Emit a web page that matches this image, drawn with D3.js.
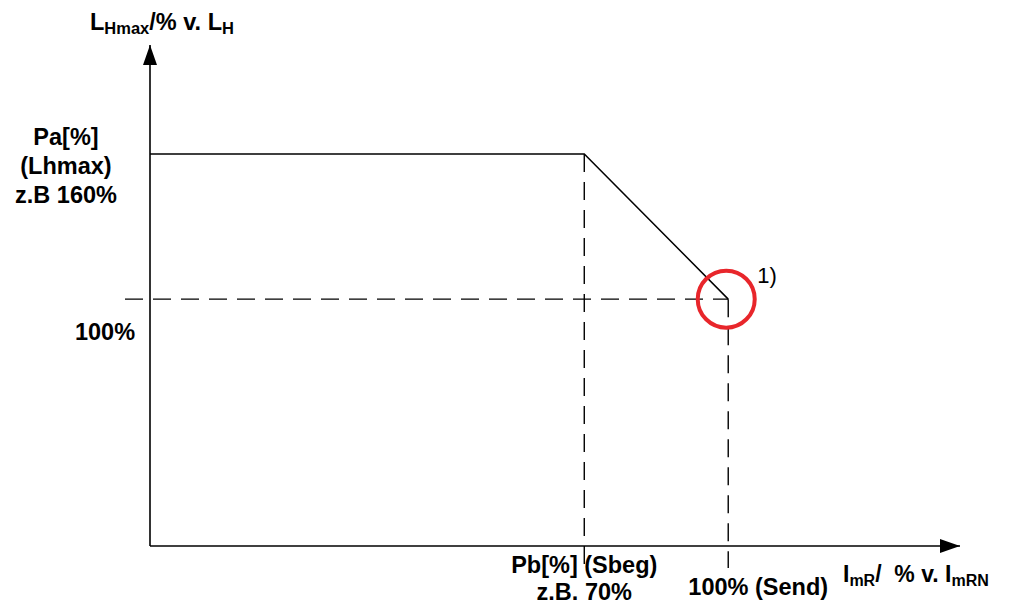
<!DOCTYPE html>
<html>
<head>
<meta charset="utf-8">
<script src="https://cdn.jsdelivr.net/npm/d3@7"></script>
<style>
    body {margin: 0; background: #fff;}
    text {font-family: "Liberation Sans", Arial, sans-serif; font-weight: bold; fill: #000;}
</style>
</head>
<body>
<svg id="chart"></svg>
<script>
// characteristic curve values (% of nominal)
const curveX = [-20.5, 70, 100];
const curveY = [160, 160, 100];
const refX = [70, 100];      // Pb (Sbeg), Send
const refY = [100];          // 100 % level
const yLabelLines = ["Pa[%]", "(Lhmax)", "z.B 160%"];
const xLabelPb = ["Pb[%] (Sbeg)", "z.B. 70%"];
const xLabelSend = "100% (Send)";
const yLabel100 = "100%";
const noteText = "1)";

const width = 1018, height = 609;

let svg = d3.select("#chart").attr("width", width).attr("height", height);

//Scales
let x = d3.scaleLinear().domain([-20.5, 148.3]).range([150, 960]);
let y = d3.scaleLinear().domain([-2, 205]).range([546, 45]);

let x0 = x.domain()[0], x1 = x.domain()[1];
let y0 = y.domain()[0], y1 = y.domain()[1];

//Arrow Marker
svg.append("defs").append("marker")
    .attr("id", "arrow")
    .attr("viewBox", "0 0 20 14")
    .attr("refX", 20).attr("refY", 7)
    .attr("markerWidth", 20).attr("markerHeight", 14)
    .attr("markerUnits", "userSpaceOnUse")
    .attr("orient", "auto")
    .append("path").attr("d", "M0,0 L20,7 L0,14 Z").attr("fill", "#000");

//Axes
svg.append("line")
    .attr("x1", x(x0)).attr("y1", y(y0))
    .attr("x2", x(x1)).attr("y2", y(y0))
    .attr("stroke", "#000").attr("stroke-width", 1.6)
    .attr("marker-end", "url(#arrow)");

svg.append("line")
    .attr("x1", x(x0)).attr("y1", y(y0))
    .attr("x2", x(x0)).attr("y2", y(y1))
    .attr("stroke", "#000").attr("stroke-width", 1.6)
    .attr("marker-end", "url(#arrow)");

//Dashed Reference Lines
svg.append("line")
    .attr("x1", x(x0) - 25).attr("y1", y(refY[0]))
    .attr("x2", x(refX[1])).attr("y2", y(refY[0]))
    .attr("stroke", "#000").attr("stroke-width", 1.4)
    .attr("stroke-dasharray", "18,10");

svg.append("line")
    .attr("x1", x(refX[0])).attr("y1", y(curveY[0]))
    .attr("x2", x(refX[0])).attr("y2", y(y0) + 18)
    .attr("stroke", "#000").attr("stroke-width", 1.4)
    .attr("stroke-dasharray", "18,10");

svg.append("line")
    .attr("x1", x(refX[1])).attr("y1", y(refY[0]))
    .attr("x2", x(refX[1])).attr("y2", y(y0) + 22)
    .attr("stroke", "#000").attr("stroke-width", 1.4)
    .attr("stroke-dasharray", "18,10");

//Curve
let points = curveX.map((d, i) => [x(d), y(curveY[i])]);
svg.append("path")
    .attr("d", d3.line()(points))
    .attr("fill", "none")
    .attr("stroke", "#000").attr("stroke-width", 1.5);

//Red Circle
svg.append("circle")
    .attr("cx", x(refX[1]) - 2).attr("cy", y(refY[0]))
    .attr("r", 28.5)
    .attr("fill", "none")
    .attr("stroke", "#e8262b").attr("stroke-width", 4);

svg.append("text")
    .attr("x", x(refX[1]) + 29).attr("y", y(refY[0]) - 16)
    .style("font-weight", "normal").style("font-size", "22px")
    .text(noteText);

//Y Labels
let yTitle = svg.append("text").attr("x", 90).attr("y", 30).style("font-size", "23.5px");
yTitle.append("tspan").text("L");
yTitle.append("tspan").attr("dy", 4).style("font-size", "16.5px").text("Hmax");
yTitle.append("tspan").attr("dy", -4).text("/% v. L");
yTitle.append("tspan").attr("dy", 4).style("font-size", "16.5px").text("H");

svg.selectAll(".pa-label").data(yLabelLines).enter().append("text")
    .attr("class", "pa-label")
    .attr("x", 66)
    .attr("y", (d, i) => y(curveY[0]) - 9 + i * 29)
    .attr("text-anchor", "middle")
    .style("font-size", "23.5px")
    .text(d => d);

svg.append("text")
    .attr("x", 105).attr("y", y(refY[0]) + 41)
    .attr("text-anchor", "middle")
    .style("font-size", "23.5px")
    .text(yLabel100);

//X Labels
svg.selectAll(".pb-label").data(xLabelPb).enter().append("text")
    .attr("class", "pb-label")
    .attr("x", x(refX[0]))
    .attr("y", (d, i) => y(y0) + 27 + i * 27)
    .attr("text-anchor", "middle")
    .style("font-size", "23.5px")
    .text(d => d);

svg.append("text")
    .attr("x", x(refX[1]) + 30).attr("y", y(y0) + 49)
    .attr("text-anchor", "middle")
    .style("font-size", "23.5px")
    .text(xLabelSend);

let xTitle = svg.append("text").attr("x", 843).attr("y", 582).style("font-size", "23px");
xTitle.append("tspan").text("I");
xTitle.append("tspan").attr("dy", 4).style("font-size", "16px").text("mR");
xTitle.append("tspan").attr("dy", -4).style("white-space", "pre").text("/  % v. I");
xTitle.append("tspan").attr("dy", 4).style("font-size", "16px").text("mRN");
</script>
</body>
</html>
